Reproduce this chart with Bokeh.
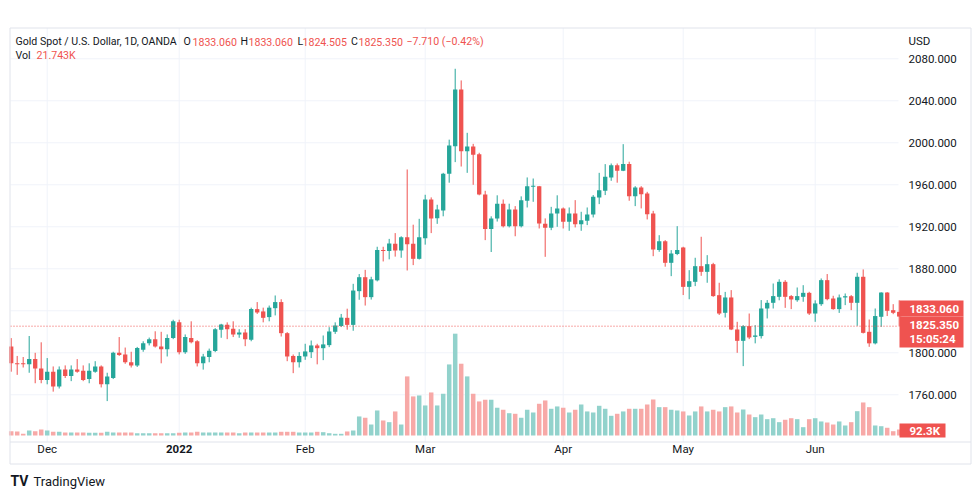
from bokeh.plotting import figure
from bokeh.models import Range1d
from bokeh.core.properties import value
from bokeh.embed import file_html
from bokeh.resources import INLINE

# ---------------- data (daily candles, Gold Spot / USD) ----------------
opens = [1806, 1790, 1790, 1789, 1794, 1785, 1774, 1782, 1768, 1784,
         1778, 1784, 1783, 1775, 1782, 1787, 1770, 1776, 1800, 1798.5,
         1791, 1788, 1803, 1809, 1813, 1806, 1803.5, 1814, 1829, 1800.6,
         1814, 1811, 1790, 1796, 1801.6, 1822, 1826.7, 1822.8, 1817.5, 1819.4,
         1812.4, 1841.6, 1839.4, 1834, 1842.5, 1848.3, 1818.7, 1797, 1791, 1796.5,
         1800.6, 1807, 1804.4, 1807.3, 1820, 1825.5, 1833.3, 1826.6, 1858.7, 1872,
         1853, 1869, 1898, 1897, 1903.8, 1897.5, 1910, 1903.8, 1889.5, 1909.2,
         1946, 1928.2, 1935.5, 1970.5, 1996.8, 2050.8, 1992, 1996.5, 1989.2, 1950.8,
         1918, 1928, 1942, 1920.6, 1936.5, 1920.6, 1944.8, 1958.1, 1958.7, 1923,
         1919, 1932.7, 1937.5, 1924.8, 1932.7, 1922.5, 1925.7, 1931.7, 1948, 1954.3,
         1967, 1978.7, 1973.3, 1979.7, 1949.2, 1957.5, 1951.7, 1932.7, 1897.8, 1906.3,
         1885.7, 1894, 1900.3, 1862.8, 1867.6, 1882.5, 1877.1, 1884.4, 1854.9, 1838.1,
         1852.7, 1822.2, 1811.4, 1825.4, 1815.2, 1815.9, 1842.2, 1847.6, 1853.3, 1867.6,
         1854, 1850.1, 1853.3, 1857.1, 1837.4, 1846.3, 1869.2, 1851.7, 1841.6, 1852.7,
         1853.9, 1847.6, 1872.4, 1820, 1809, 1834.3, 1857.4, 1840.6, 1839]
highs = [1814, 1797, 1796, 1816, 1800, 1810, 1795, 1787, 1787, 1788,
         1788, 1794, 1788, 1790, 1792, 1788, 1781, 1801, 1815, 1805,
         1801, 1805.6, 1811, 1814.5, 1820.5, 1820, 1817.5, 1831.5, 1831.5, 1817.5,
         1830, 1812, 1799, 1804, 1823.5, 1827.6, 1829, 1830, 1822.5, 1822.5,
         1843, 1848.3, 1843, 1845, 1854.6, 1851, 1819.7, 1798.4, 1800.6, 1808.6,
         1811.7, 1808.6, 1816.5, 1824.4, 1829, 1837, 1842, 1865.7, 1875, 1879,
         1872.4, 1901, 1901, 1908.5, 1914, 1911, 1974.6, 1922, 1927.6, 1950.5,
         1948, 1941, 1971.4, 2003, 2070.5, 2059.4, 2009.5, 1999, 1990.5, 1954.3,
         1930, 1950, 1946, 1942, 1939.7, 1949, 1967, 1966, 1958.9, 1928,
         1939, 1950, 1938.4, 1938.4, 1945.4, 1934.3, 1938.4, 1950.2, 1971.4, 1979.7,
         1980.3, 1980.3, 1998.7, 1982, 1958.7, 1958.7, 1953.3, 1935.2, 1912, 1907.3,
         1897.8, 1920.6, 1901, 1878.7, 1890.5, 1910.5, 1893, 1885.7, 1866.7, 1858,
         1859.7, 1829.5, 1826.3, 1837.4, 1826.3, 1850.2, 1850.2, 1866, 1870, 1869.2,
         1855, 1862.2, 1864.4, 1858.1, 1850, 1870.8, 1875, 1854.3, 1855.5, 1856.5,
         1855, 1876.2, 1879.4, 1831.7, 1842.2, 1857.6, 1857.8, 1846.3, 1850]
lows = [1782, 1779, 1786, 1781, 1771, 1771, 1770, 1763, 1766, 1776,
        1773, 1781, 1773, 1771, 1781, 1767, 1754, 1775, 1797, 1789.5,
        1786, 1786.5, 1801, 1807, 1805, 1790, 1796.5, 1813, 1798.5, 1799,
        1809, 1787, 1784, 1791, 1800.6, 1814.3, 1813, 1815, 1814.3, 1806.3,
        1811, 1837, 1829, 1830, 1835.6, 1815.5, 1792, 1780.6, 1786, 1793.3,
        1795, 1789, 1793, 1805.4, 1818, 1824.5, 1822, 1821, 1850.5, 1845,
        1850.7, 1868, 1887, 1889, 1891.6, 1890.5, 1878.4, 1883.5, 1888.8, 1903,
        1914, 1922.8, 1930, 1962, 1981.6, 1977.4, 1971.4, 1960, 1950, 1907.3,
        1896, 1925, 1919.4, 1919.4, 1911, 1919.4, 1938.4, 1943.8, 1918.4, 1891.4,
        1916.8, 1920, 1918.4, 1916.2, 1919.4, 1916.2, 1921.6, 1928.9, 1941.6, 1950.2,
        1963.8, 1962, 1973, 1944.8, 1939.7, 1937.5, 1927, 1892, 1896.2, 1882,
        1873, 1893, 1855, 1851, 1863.5, 1873.3, 1866.7, 1853.3, 1836, 1833.6,
        1821.6, 1800, 1787.3, 1813, 1809, 1813.6, 1832.7, 1842.2, 1850, 1842.8,
        1841.6, 1848.6, 1848.6, 1836, 1829.5, 1844.7, 1850, 1841, 1838, 1845.4,
        1840.6, 1825.7, 1818.4, 1805.7, 1808, 1824.7, 1835, 1836.8, 1825]
closes = [1790, 1789, 1789, 1794, 1785, 1774, 1782, 1768, 1784, 1778,
          1784, 1782, 1774, 1783, 1787, 1770, 1777.5, 1800, 1798, 1791,
          1788, 1804.6, 1809, 1813, 1806, 1803.5, 1814, 1830, 1800.6, 1815,
          1810, 1790, 1796.5, 1802, 1822.5, 1827, 1822.5, 1817.5, 1819.4, 1813,
          1841.6, 1838.4, 1833.3, 1843, 1848.3, 1818.7, 1796.5, 1791, 1797, 1801.3,
          1807, 1804.4, 1808, 1820.3, 1826, 1833.5, 1826.6, 1859.3, 1872, 1853,
          1870, 1898, 1897, 1904, 1897.5, 1910, 1903.5, 1889.5, 1910, 1946,
          1928, 1936.5, 1970.5, 1997.5, 2050.8, 1992, 1996.5, 1988.6, 1950.8, 1918,
          1928, 1942, 1920.6, 1936.5, 1920.6, 1945.4, 1958.7, 1958.7, 1923.2, 1919,
          1932.7, 1937.5, 1924.8, 1932.7, 1922.5, 1926.3, 1931.7, 1948.6, 1954.9, 1967.6,
          1978.7, 1973.3, 1979.7, 1949.2, 1957.5, 1951.1, 1932, 1898.4, 1906.3, 1885.7,
          1894.6, 1897.8, 1862.8, 1868.2, 1882.5, 1877.1, 1884.4, 1854, 1837.4, 1852.7,
          1822.2, 1811.4, 1825.4, 1814.6, 1816.5, 1842.2, 1847.6, 1854, 1867.6, 1853.3,
          1850.8, 1854, 1857.1, 1837.4, 1847, 1869.2, 1851.1, 1841.6, 1852.7, 1853.9,
          1847.6, 1872.4, 1819, 1809, 1835, 1857.4, 1840, 1838.1, 1834.5]
volumes_k = [66, 62, 26, 77, 66, 92, 77, 57, 57, 46,
             46, 46, 46, 42, 42, 42, 57, 46, 46, 46,
             46, 35, 35, 35, 35, 35, 35, 35, 42, 46,
             46, 57, 46, 46, 46, 46, 46, 46, 35, 46,
             46, 46, 46, 46, 46, 57, 57, 57, 46, 46,
             46, 57, 51, 35, 26, 26, 62, 77, 293, 273,
             169, 385, 231, 205, 370, 169, 909, 601, 616, 462,
             662, 462, 642, 1093, 1566, 1104, 909, 642, 524, 550,
             550, 427, 396, 343, 334, 273, 396, 354, 488, 539,
             411, 447, 427, 354, 396, 477, 370, 354, 457, 411,
             303, 334, 370, 411, 411, 411, 477, 554, 436, 436,
             396, 385, 370, 308, 370, 447, 370, 396, 370, 436,
             447, 354, 400, 323, 282, 323, 251, 266, 205, 242,
             266, 251, 128, 251, 266, 216, 200, 169, 216, 154,
             205, 374, 508, 436, 154, 143, 119, 66, 92.3]

month_ticks = [6, 28, 49, 69, 92, 112, 134]
month_labels = ["Dec", "2022", "Feb", "Mar", "Apr", "May", "Jun"]
price_ticks = [1760, 1800, 1840, 1880, 1920, 1960, 2000, 2040, 2080]
last_price = 1825.35

header_title = "Gold Spot / U.S. Dollar, 1D, OANDA"
header_keys = ["O", "H", "L", "C"]
header_vals = ["1833.060", "1833.060", "1824.505", "1825.350"]
header_change = "\u22127.710 (\u22120.42%)"
header_vol = "21.743K"
price_tags = ["1833.060", "1825.350", "15:05:24"]
vol_tag = "92.3K"

# ---------------- styling / layout ----------------
FONT = value("Roboto")
UP, DOWN = "#26a69a", "#ef5350"
VOL_UP, VOL_DOWN = "#92d2cc", "#f7a9a7"
TXT = "#131722"
GRID = "#f0f3fa"
BORDER = "#e0e3eb"

W, H = 976, 496
# pixel geometry of the pane: bar k centred at 10.7 + 6k px, price p at 58.3 + (2080-p)*1.05 px
X0, DX = 10.7, 6.0
Y2080, PPU = 58.3, 1.05
VOL_BASE, K_PER_PX = 435.0, 15.38
PANE_L, PANE_R, PANE_T, PANE_B = 10, 898, 27.5, 441.5

def xk(px):
    return (px - X0) / DX

def yp(py):
    return 2080 - (py - Y2080) / PPU

p = figure(width=W, height=H, output_backend="svg", toolbar_location=None,
           x_range=Range1d(xk(0), xk(W)), y_range=Range1d(yp(H), yp(0)),
           x_axis_type=None, y_axis_type=None,
           min_border_left=0, min_border_right=0, min_border_top=0, min_border_bottom=0,
           outline_line_color=None, background_fill_color="white", border_fill_color="white")
p.extra_y_ranges = {"vol": Range1d((VOL_BASE - H) * K_PER_PX, VOL_BASE * K_PER_PX)}

# grid
p.segment(x0=[xk(PANE_L)] * len(price_ticks), x1=[xk(PANE_R)] * len(price_ticks),
          y0=price_ticks, y1=price_ticks, line_color=GRID, line_width=1)
p.segment(x0=month_ticks, x1=month_ticks, y0=[yp(PANE_T)] * len(month_ticks),
          y1=[yp(PANE_B)] * len(month_ticks), line_color=GRID, line_width=1)

n = len(opens)
idx = list(range(n))
is_up = [c >= o for o, c in zip(opens, closes)]
colors = [UP if u else DOWN for u in is_up]
vcolors = [VOL_UP if u else VOL_DOWN for u in is_up]
body_bot = [min(o, c) for o, c in zip(opens, closes)]
body_top = [max(max(o, c), min(o, c) + 1.0) for o, c in zip(opens, closes)]

# volume
p.vbar(x=idx, width=0.75, bottom=0, top=volumes_k, y_range_name="vol",
       fill_color=vcolors, line_color=None)
# candles
p.segment(x0=idx, x1=idx, y0=lows, y1=highs, line_color=colors, line_width=1)
p.vbar(x=idx, width=0.72, bottom=body_bot, top=body_top, fill_color=colors, line_color=None)

# last price line
p.segment(x0=[xk(PANE_L)], x1=[xk(PANE_R)], y0=[last_price], y1=[last_price],
          line_color=DOWN, line_dash="1 2", line_width=1)

# borders
p.quad(left=[xk(9.5)], right=[xk(970.5)], top=[yp(27.5)], bottom=[yp(463.5)],
       fill_color=None, line_color=BORDER, line_width=1)
p.segment(x0=[xk(9.5)], x1=[xk(970.5)], y0=[yp(PANE_B)], y1=[yp(PANE_B)],
          line_color=BORDER, line_width=1)

def txt(x, y, t, color=TXT, size="11.5px", bold=False, align="left"):
    p.text(x=x, y=y, text=t, text_font=FONT, text_font_size=size,
           text_font_style="bold" if bold else "normal", text_color=color,
           text_align=align, text_baseline="middle")

# price scale
txt([xk(908)] * len(price_ticks), price_ticks, ["%.3f" % v for v in price_ticks])
txt([xk(908)], [yp(40.5)], ["USD"])

# time scale
normal = [i for i, l in enumerate(month_labels) if l != "2022"]
txt([month_ticks[i] for i in normal], [yp(448.5)] * len(normal),
    [month_labels[i] for i in normal], align="center")
yr = month_labels.index("2022")
txt([month_ticks[yr]], [yp(448.5)], [month_labels[yr]], bold=True, align="center")

# legend header
HS = "10.6px"
txt([xk(15)], [yp(41)], [header_title], size=HS)
key_px = [183, 240, 297, 350.5]
val_px = [192, 248, 302, 358]
txt([xk(v) for v in key_px], [yp(41)] * 4, header_keys, size=HS)
txt([xk(v) for v in val_px], [yp(41)] * 4, header_vals, color=DOWN, size=HS)
txt([xk(406)], [yp(41)], [header_change], color=DOWN, size=HS)
txt([xk(15)], [yp(55)], ["Vol"], size=HS)
txt([xk(36)], [yp(55)], [header_vol], color=DOWN, size=HS)

# last price tags
p.quad(left=[xk(899)] * 3, right=[xk(963), xk(963), xk(945)],
       top=[yp(300), yp(316), yp(423)], bottom=[yp(316), yp(347), yp(437)],
       fill_color=DOWN, line_color=None)
txt([xk(909)] * 3, [yp(308.5), yp(324), yp(338)], price_tags, color="white", bold=True)
txt([xk(909)], [yp(430.5)], [vol_tag], color="white", bold=True)

# footer
txt([xk(10)], [yp(480.5)], ["TV"], size="14px", bold=True)
txt([xk(33)], [yp(480.5)], ["TradingView"], size="13px")

open("out.html", "w").write(file_html(p, INLINE))
